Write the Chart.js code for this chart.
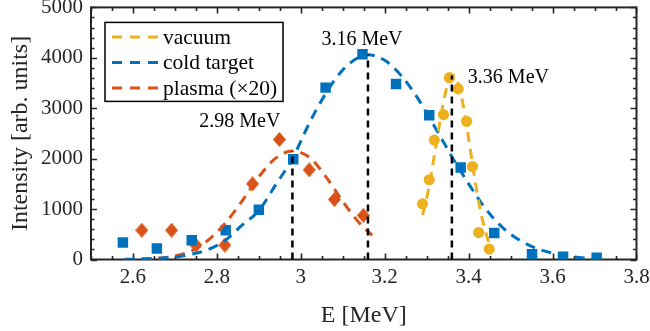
<!DOCTYPE html>
<html><head><meta charset="utf-8">
<script src="https://cdn.jsdelivr.net/npm/chart.js@4/dist/chart.umd.min.js"></script>
<style>html,body{margin:0;padding:0;background:#fff}#wrap{width:650px;height:331px}</style>
</head><body><div id="wrap"><canvas id="c" width="650" height="331"></canvas></div>
<script>
// ---------- data ----------
const seriesNames = ['vacuum', 'cold target', 'plasma (\u00d720)'];

const vacuumE = [3.290, 3.306, 3.318, 3.340, 3.354, 3.375, 3.395, 3.409, 3.424, 3.449];
const vacuumI = [1104, 1582, 2368, 2873, 3606, 3384, 2741, 1843, 534, 206];

const coldE = [2.576, 2.657, 2.740, 2.821, 2.900, 2.982, 3.059, 3.147, 3.227, 3.306, 3.381, 3.461, 3.551, 3.625, 3.705];
const coldI = [338, 220, 383, 580, 986, 1988, 3409, 4071, 3482, 2859, 1824, 527, 102, 55, 35];

const plasmaE = [2.621, 2.692, 2.750, 2.819, 2.885, 2.949, 3.020, 3.080, 3.149];
const plasmaI = [580, 580, 285, 285, 1500, 2381, 1778, 1189, 874];

const vacuumFitE = [3.29, 3.30, 3.31, 3.32, 3.33, 3.34, 3.35, 3.36, 3.37, 3.38, 3.39, 3.40, 3.41, 3.42, 3.43, 3.44, 3.45];
const vacuumFitI = [880, 1220, 1650, 2150, 2650, 3120, 3480, 3650, 3600, 3340, 2920, 2400, 1850, 1330, 890, 560, 280];

const coldFitE = [2.58, 2.62, 2.66, 2.70, 2.74, 2.78, 2.82, 2.86, 2.90, 2.94, 2.98, 3.02, 3.06, 3.10, 3.14, 3.16, 3.20, 3.24, 3.28, 3.32, 3.36, 3.40, 3.44, 3.48, 3.52, 3.56, 3.60, 3.64, 3.68, 3.72];
const coldFitI = [5, 12, 25, 50, 105, 200, 380, 680, 970, 1480, 2000, 2700, 3300, 3760, 4020, 4060, 3950, 3640, 3180, 2620, 2040, 1500, 1010, 640, 390, 225, 125, 62, 30, 14];

const plasmaFitE = [2.62, 2.66, 2.70, 2.74, 2.78, 2.82, 2.86, 2.90, 2.94, 2.98, 3.02, 3.06, 3.10, 3.14, 3.17];
const plasmaFitI = [8, 25, 70, 170, 390, 720, 1160, 1640, 2010, 2150, 2030, 1640, 1150, 720, 480];

const peakE = [2.98, 3.16, 3.36];
const peakTop = [2150, 4060, 3650];
const peakLabels = ['2.98 MeV', '3.16 MeV', '3.36 MeV'];

const xTickValues = [2.6, 2.8, 3, 3.2, 3.4, 3.6, 3.8];
const yTickValues = [0, 1000, 2000, 3000, 4000, 5000];

// ---------- styles ----------
const SERIF = '"Liberation Serif", "Times New Roman", serif';
const AXC = '#262626';
const colors = ['#EDB120', '#0072BD', '#D95319'];
const DASH = [10, 7];

function pts(xs, ys) { return xs.map((x, i) => ({ x: x, y: ys[i] })); }

const diamond = document.createElement('canvas');
diamond.width = 13; diamond.height = 15;
(function () {
  const g = diamond.getContext('2d');
  g.fillStyle = colors[2];
  g.beginPath(); g.moveTo(6.5, 0); g.lineTo(13, 7.5); g.lineTo(6.5, 15); g.lineTo(0, 7.5); g.closePath(); g.fill();
})();

const datasets = [];
[[vacuumFitE, vacuumFitI], [coldFitE, coldFitI], [plasmaFitE, plasmaFitI]].forEach((s, k) => {
  datasets.push({
    label: seriesNames[k] + ' fit', data: pts(s[0], s[1]), showLine: true, pointRadius: 0,
    borderColor: colors[k], borderWidth: 3, borderDash: DASH, cubicInterpolationMode: 'monotone',
    fill: false, order: 2
  });
});
datasets.push({ label: seriesNames[0], data: pts(vacuumE, vacuumI), showLine: false, pointStyle: 'circle',
  pointRadius: 5.6, pointBackgroundColor: colors[0], pointBorderWidth: 0, order: 3 });
datasets.push({ label: seriesNames[1], data: pts(coldE, coldI), showLine: false, pointStyle: 'rect',
  pointRadius: 7.4, pointBackgroundColor: colors[1], pointBorderWidth: 0, order: 3 });
datasets.push({ label: seriesNames[2], data: pts(plasmaE, plasmaI), showLine: false, pointStyle: diamond,
  pointRadius: 7, pointBackgroundColor: colors[2], pointBorderWidth: 0, order: 3 });
peakE.forEach((e, i) => {
  datasets.push({ label: 'peak ' + peakLabels[i], data: [{ x: e, y: 0 }, { x: e, y: peakTop[i] }], showLine: true,
    pointRadius: 0, borderColor: '#000', borderWidth: 2.5, borderDash: [7, 5], order: 1 });
});

const framePlugin = {
  id: 'frame',
  beforeDatasetsDraw(chart) {
    const { ctx, chartArea: a, scales: { x, y } } = chart;
    ctx.save();
    ctx.strokeStyle = AXC; ctx.lineWidth = 1.6;
    ctx.beginPath();
    for (let v = 2.5; v <= 3.8001; v += 0.05) {
      const px = Math.round(x.getPixelForValue(v)) + 0.5;
      const major = xTickValues.some(t => Math.abs(t - v) < 1e-6);
      const L = major ? 6 : 3.5;
      ctx.moveTo(px, a.bottom); ctx.lineTo(px, a.bottom - L);
      ctx.moveTo(px, a.top); ctx.lineTo(px, a.top + L);
    }
    for (let v = 0; v <= 5000.1; v += 200) {
      const py = Math.round(y.getPixelForValue(v)) + 0.5;
      const major = yTickValues.some(t => Math.abs(t - v) < 1e-6);
      const L = major ? 6 : 3.5;
      ctx.moveTo(a.left, py); ctx.lineTo(a.left + L, py);
      ctx.moveTo(a.right, py); ctx.lineTo(a.right - L, py);
    }
    ctx.stroke();
    ctx.lineWidth = 2;
    ctx.strokeRect(a.left, a.top, a.right - a.left, a.bottom - a.top);
    ctx.restore();
  },
  afterDatasetsDraw(chart) {
    const { ctx, chartArea: a, scales: { x, y } } = chart;
    ctx.save();
    ctx.font = '20px ' + SERIF; ctx.fillStyle = '#000'; ctx.textBaseline = 'middle';
    const place = [{ align: 'right', dx: -12, dy: -29 }, { align: 'center', dx: -6, dy: -15 }, { align: 'left', dx: 16, dy: 2 }];
    peakE.forEach((e, i) => {
      const px = x.getPixelForValue(e), py = y.getPixelForValue(peakTop[i]);
      ctx.textAlign = place[i].align;
      ctx.fillText(peakLabels[i], px + place[i].dx, py + place[i].dy);
    });
    const bx = a.left + 14, by = a.top + 15, bw = 178, bh = 79;
    ctx.fillStyle = '#fff'; ctx.fillRect(bx, by, bw, bh);
    ctx.strokeStyle = '#000'; ctx.lineWidth = 1.5; ctx.strokeRect(bx, by, bw, bh);
    ctx.font = '21.5px ' + SERIF; ctx.textAlign = 'left'; ctx.textBaseline = 'middle';
    seriesNames.forEach((n, i) => {
      const ly = by + 14.5 + i * 25.5;
      ctx.strokeStyle = colors[i]; ctx.lineWidth = 3; ctx.setLineDash([10, 8]);
      ctx.beginPath(); ctx.moveTo(bx + 7, ly); ctx.lineTo(bx + 53, ly); ctx.stroke();
      ctx.setLineDash([]);
      ctx.fillStyle = '#000'; ctx.fillText(n, bx + 58, ly + 1);
    });
    ctx.restore();
  }
};

new Chart(document.getElementById('c'), {
  type: 'scatter',
  data: { datasets: datasets },
  options: {
    responsive: false, animation: false, devicePixelRatio: 1,
    layout: { padding: { left: 0, top: 6, right: 13.5, bottom: 0 } },
    plugins: { legend: { display: false }, tooltip: { enabled: false } },
    scales: {
      x: {
        type: 'linear', min: 2.5, max: 3.8,
        afterBuildTicks: s => { s.ticks = xTickValues.map(v => ({ value: v })); },
        afterFit: s => { s.height = 71.5; s.paddingLeft = 0; s.paddingRight = 0; },
        grid: { display: false, drawTicks: false }, border: { display: false },
        ticks: { font: { family: SERIF, size: 21 }, color: AXC, padding: 5, maxRotation: 0, autoSkip: false,
          callback: v => String(v) },
        title: { display: true, text: 'E [MeV]', font: { family: SERIF, size: 24 }, color: AXC, padding: { top: 0, bottom: 1 } }
      },
      y: {
        type: 'linear', min: 0, max: 5000,
        afterBuildTicks: s => { s.ticks = yTickValues.map(v => ({ value: v })); },
        afterFit: s => { s.width = 91; s.paddingTop = 0; s.paddingBottom = 0; },
        grid: { display: false, drawTicks: false }, border: { display: false },
        ticks: { font: { family: SERIF, size: 21 }, color: AXC, padding: 8, autoSkip: false,
          callback: v => String(v) },
        title: { display: true, text: 'Intensity [arb. units]', font: { family: SERIF, size: 24 }, color: AXC, padding: { top: 6, bottom: 0 } }
      }
    }
  },
  plugins: [framePlugin]
});
</script></body></html>
